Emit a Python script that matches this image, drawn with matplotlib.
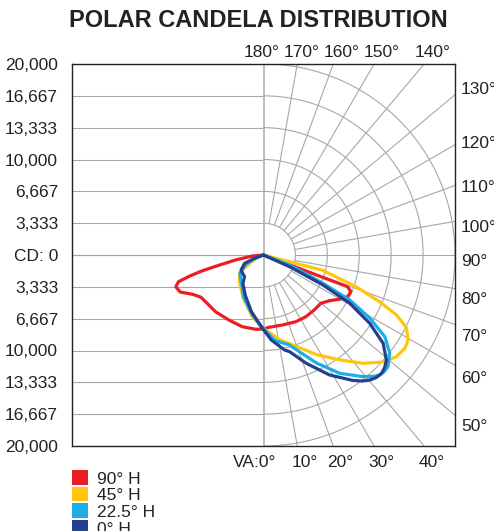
"""
Polar candela distribution chart (luminaire photometry)
"""

import numpy as np
import matplotlib.pyplot as plt
from matplotlib.patches import Rectangle

plt.rcParams['font.family'] = ['Liberation Sans', 'DejaVu Sans']

# ---- data: vertical angle (deg, negative = opposite side) and candela ----
red_va = [-90, -85, -80, -77, -75.5, -74, -72.5, -70, -66, -61, -56, -49, -40, -28, -16.5, -6,
          0, 4.3, 15, 25.8, 34.4, 42.6, 49.8, 55.1, 59.6, 63.5, 67.2, 69.3, 72]
red_cd = [0, 1150, 2930, 4820, 6600, 8060, 9320, 9740, 9530, 8480, 7890, 7760, 7770, 7710, 7830, 7820,
          7750, 7590, 7590, 7760, 7830, 7820, 7840, 8370, 9160, 9800, 9900, 9380, 0]

yellow_va = [-80, -70, -59, -53, -40, -26, -10, 0, 11, 16, 20, 28, 36, 42.5, 48, 52.5, 56.5,
             59.5, 63, 65.7, 68, 71, 75.5, 77]
yellow_cd = [0, 630, 1680, 3140, 3870, 4920, 6600, 7700, 9060, 9630, 10200, 11830, 13570, 15390,
             16750, 17490, 17700, 17540, 16750, 15240, 13090, 10260, 6390, 0]

lblue_va = [-75, -68, -62, -52, -37.5, -24.5, -10.4, -0.5, 7.4, 16, 26, 32.7, 39.2, 42, 44, 46, 48, 52,
            56, 59.2, 62.4, 64.5, 69, 72]
lblue_cd = [0, 1050, 2090, 3140, 3770, 4920, 6390, 7640, 9000, 9810, 12570, 14720, 16440, 17100, 17480,
            17560, 17490, 16730, 15290, 12930, 10160, 6880, 2930, 0]

dblue_va = [-72, -70, -66, -56, -41, -36, -24.5, -12, -1.8, 5.2, 12.5, 15, 21.5, 28.8, 35.4, 38, 40.3,
            42.6, 44.9, 47, 49.4, 53.5, 57.2, 60.7, 63.2, 65.8, 68]
dblue_cd = [0, 1010, 2170, 2830, 3020, 3660, 4610, 6070, 7510, 8930, 10190, 10470, 12190, 14340,
            16120, 16750, 17170, 17420, 17480, 17300, 16910, 15540, 13190, 10320, 6960, 2980, 0]

series_names = ['90° H', '45° H', '22.5° H', '0° H']
series_colors = ['#ED1C24', '#FFC60B', '#1BAEE8', '#24408E']

R = 20000
cd_labels = ['20,000', '16,667', '13,333', '10,000', '6,667', '3,333', 'CD: 0',
             '3,333', '6,667', '10,000', '13,333', '16,667', '20,000']
bottom_angles = [0, 10, 20, 30, 40]
right_angles = [50, 60, 70, 80, 90, 100, 110, 120, 130]
top_angles = [140, 150, 160, 170, 180]

# ---- figure ----
W, H = 494, 531
fig = plt.figure(figsize=(W / 100, H / 100), dpi=100)
ax = fig.add_axes([72 / W, 1 - 446 / H, 383 / W, 382 / H])
ax.set_xlim(-R, R)
ax.set_ylim(-R, R)
for sp in ax.spines.values():
    sp.set_linewidth(1.0)
    sp.set_color('#222222')

grid_kw = dict(color='#a8a8a8', lw=0.8, zorder=1)
levels = [R * k / 6 for k in range(1, 7)]

# left half: horizontal lines
for lv in [0] + levels:
    ax.plot([-R, 0], [lv, lv], **grid_kw)
    ax.plot([-R, 0], [-lv, -lv], **grid_kw)
ax.plot([0, 0], [-R, R], color='#bdbdbd', lw=1.4, zorder=1)

# right half: arcs
t = np.linspace(-np.pi / 2, np.pi / 2, 200)
for lv in levels:
    ax.plot(lv * np.cos(t), lv * np.sin(t), **grid_kw)

# radial lines every 10 deg
for a in range(10, 180, 10):
    dx, dy = np.sin(np.radians(a)), -np.cos(np.radians(a))
    s = R / max(abs(dx), abs(dy))
    ax.plot([levels[0] * dx, s * dx], [levels[0] * dy, s * dy], **grid_kw)

# curves
all_va = [red_va, yellow_va, lblue_va, dblue_va]
all_cd = [red_cd, yellow_cd, lblue_cd, dblue_cd]
for va, cd, col in zip(all_va, all_cd, series_colors):
    va = np.radians(va)
    cd = np.array(cd)
    ax.plot(cd * np.sin(va), -cd * np.cos(va), color=col, lw=2.3, zorder=3,
            solid_joinstyle='round', solid_capstyle='round')

# left tick labels
ax.set_xticks([])
ax.set_yticks([R - k * R / 6 for k in range(13)])
ax.set_yticklabels(cd_labels, fontsize=12.5, color='#222222')
ax.tick_params(axis='y', length=0, pad=10)

lab_kw = dict(textcoords='offset points', fontsize=12.5, color='#222222',
              annotation_clip=False)
px = 0.72  # points per pixel

for a in bottom_angles:
    x = R * np.tan(np.radians(a))
    if a == 0:
        ax.annotate('VA:0°', (x, -R), xytext=(13 * px, -21 * px), ha='right', va='baseline', **lab_kw)
    else:
        ax.annotate(f'{a}°', (x, -R), xytext=(7 * px, -21 * px), ha='center', va='baseline', **lab_kw)

right_off = [11, 12.5, 11.5, 10, 6, 6, 1.5, -2, -6]
for a, off in zip(right_angles, right_off):
    y = -R / np.tan(np.radians(a)) if a != 90 else 0
    ax.annotate(f'{a}°', (R, y), xytext=(6 * px, -(off + 5) * px), ha='left', va='baseline', **lab_kw)

for a in top_angles:
    x = -R * np.tan(np.radians(a))
    dxp = -2 if a == 180 else (4 if a == 170 else 8)
    ax.annotate(f'{a}°', (x, R), xytext=(dxp * px, 7 * px), ha='center', va='baseline', **lab_kw)

# title
fig.text(258 / W, 1 - 27 / H, 'POLAR CANDELA DISTRIBUTION', ha='center', va='baseline',
         fontsize=17, fontweight='bold', color='#222222')

# legend
for i, (name, col) in enumerate(zip(series_names, series_colors)):
    top = 470 + i * 16.6
    fig.add_artist(Rectangle((72 / W, 1 - (top + 14.5) / H), 15.5 / W, 14.5 / H,
                             transform=fig.transFigure, color=col, lw=0))
    fig.text(96.5 / W, 1 - (top + 13.8) / H, name, ha='left', va='baseline',
             fontsize=12.5, color='#222222')

plt.savefig('out.png', dpi=100)
plt.close()
